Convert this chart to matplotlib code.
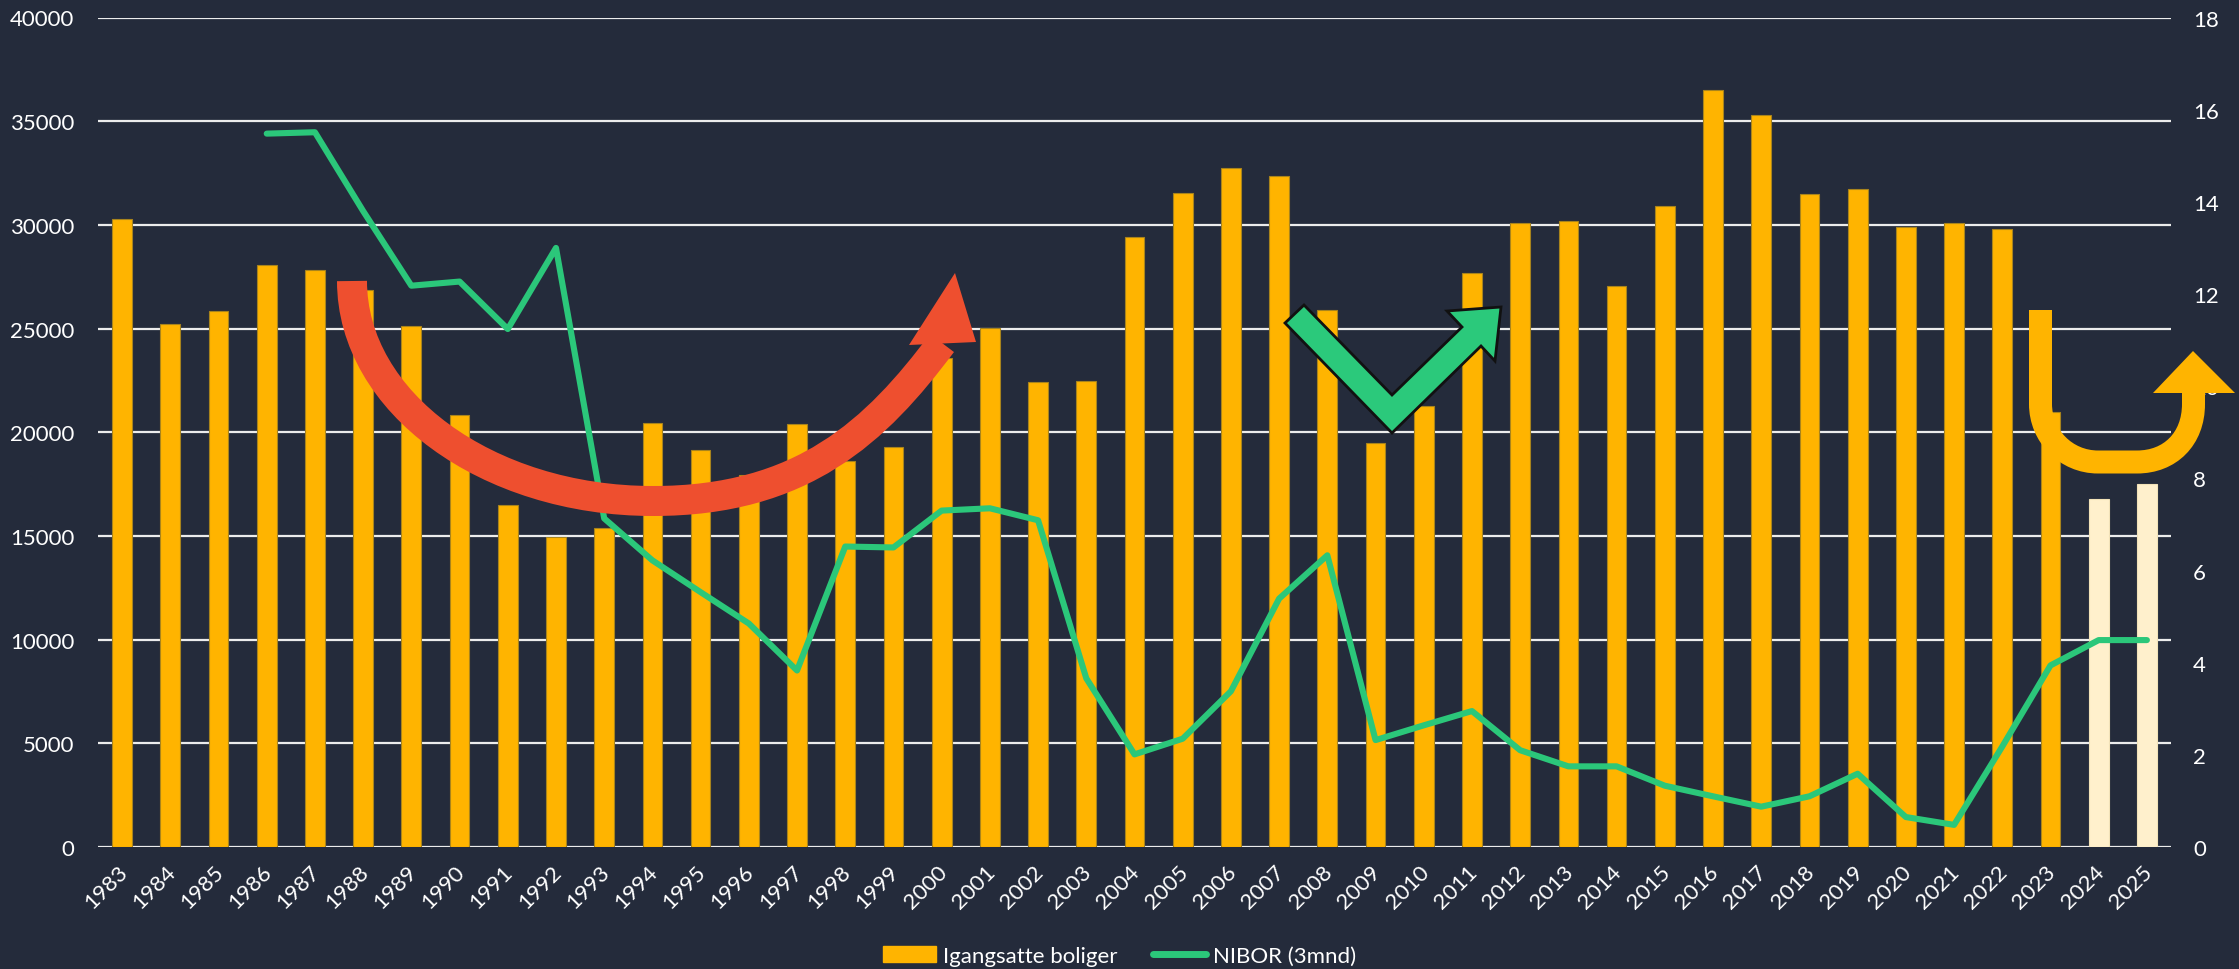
import numpy as np
import matplotlib
matplotlib.use("Agg")
from matplotlib import pyplot as plt
from matplotlib.path import Path
from matplotlib.patches import PathPatch, Polygon, Patch
from matplotlib.lines import Line2D
import matplotlib.transforms as mtransforms

plt.rcParams['font.family'] = ['Lato', 'DejaVu Sans']

# Data
years = [str(y) for y in range(1983, 2026)]
boliger = [30300, 25200, 25850, 28050, 27800, 26850, 25100, 20850, 16500, 14950,
           15400, 20450, 19150, 17950, 20400, 18600, 19300, 23600, 25050, 22400,
           22450, 29400, 31550, 32750, 32350, 25900, 19500, 21250, 27700, 30100,
           30200, 27050, 30900, 36500, 35300, 31500, 31750, 29900, 30100, 29800,
           21000, 16800, 17500]
nibor = [np.nan, np.nan, np.nan, 15.48, 15.51, 13.8, 12.18, 12.27, 11.24, 13.0,
         7.13, 6.22, 5.53, 4.85, 3.83, 6.52, 6.5, 7.3, 7.35, 7.09,
         3.66, 2.01, 2.35, 3.38, 5.39, 6.33, 2.32, 2.64, 2.95, 2.10,
         1.75, 1.75, 1.33, 1.10, 0.875, 1.10, 1.59, 0.65, 0.48, 2.18,
         3.94, 4.49, 4.49]
prognose = ['2024', '2025']

# Colours
bg = '#242b3b'
bar_color = '#ffb400'
bar_prog = '#fff0cc'
line_color = '#2bc77a'
red = '#ee4f2f'
txt = 'white'

W, H, DPI = 2239, 970, 100
fig = plt.figure(figsize=(W / DPI, H / DPI), dpi=DPI, facecolor=bg)
ax = fig.add_axes([98 / W, 1 - 848 / H, (2171 - 98) / W, (848 - 18.5) / H])
ax.set_facecolor(bg)
ax2 = ax.twinx()

x = np.arange(len(years))
colors = [bar_prog if y in prognose else bar_color for y in years]
edges = ['#f2e2b8' if y in prognose else '#a8841c' for y in years]
ax.bar(x, boliger, width=0.41, color=colors, edgecolor=edges, linewidth=0.8, zorder=2)
ax2.plot(x, nibor, color=line_color, lw=4.4, solid_capstyle='round',
         solid_joinstyle='round', zorder=3)

ax.set_xlim(-0.5, len(years) - 0.5)
ax.set_ylim(0, 40000)
ax2.set_ylim(0, 18)
ax.set_yticks(np.arange(0, 40001, 5000))
ax2.set_yticks(np.arange(0, 19, 2))
ax.grid(axis='y', color='#ececec', lw=1.6, zorder=0)
ax.set_axisbelow(True)
for a in (ax, ax2):
    for s in a.spines.values():
        s.set_visible(False)
    a.tick_params(length=0, colors=txt, labelsize=16)
ax.tick_params(axis='y', pad=17)
ax2.tick_params(axis='y', pad=16)
ax.set_xticks(x)
ax.set_xticklabels(years, rotation=45, ha='right', va='top', rotation_mode='anchor')
ax.tick_params(axis='x', pad=10)
shift = mtransforms.ScaledTranslation(-5 / DPI, 0, fig.dpi_scale_trans)
for lab in ax.get_xticklabels():
    lab.set_transform(lab.get_transform() + shift)

# Legend
handles = [Patch(facecolor=bar_color, edgecolor=bar_color),
           Line2D([], [], color=line_color, lw=5, solid_capstyle='round')]
fig.legend(handles, ['Igangsatte boliger', 'NIBOR (3mnd)'], loc='center',
           bbox_to_anchor=(0.5, 1 - 957 / H), ncol=2, frameon=False, fontsize=16,
           labelcolor=txt, handlelength=2.4, handletextpad=0.3, columnspacing=1.6)

# Decorations drawn in pixel coordinates (y down)
px = mtransforms.Affine2D().scale(1 / W, -1 / H).translate(0, 1) + fig.transFigure
C, L, M = Path.CURVE4, Path.LINETO, Path.MOVETO

# red U-shaped arrow
red_path = Path([(352, 282), (352, 403), (487, 502), (653, 502),
                 (803, 502), (876, 432), (942, 344)],
                [M, C, C, C, C, C, C])
fig.add_artist(PathPatch(red_path, fill=False, edgecolor=red, lw=30 * 0.72,
                         capstyle='butt', transform=px, zorder=10))
fig.add_artist(Polygon([(955, 274), (909, 346), (976, 343)], closed=True,
                       facecolor=red, edgecolor='none', transform=px, zorder=10))

# green check arrow
check = [(1304, 306), (1392, 396), (1462, 328), (1447, 312), (1501, 308),
         (1495, 362), (1481, 347), (1392, 434), (1285, 324)]
fig.add_artist(Polygon(check, closed=True, facecolor='#2bc97b', edgecolor='#111111',
                       lw=2, joinstyle='miter', transform=px, zorder=10))

# orange U-turn arrow
u_path = Path([(2040.5, 311), (2040.5, 405), (2040.5, 437), (2066, 463), (2098, 463),
               (2137, 463), (2170, 463), (2193.5, 440), (2193.5, 405), (2193.5, 394)],
              [M, L, C, C, C, L, C, C, C, L])
fig.add_artist(PathPatch(u_path, fill=False, edgecolor=bar_color, lw=23 * 0.72,
                         capstyle='butt', joinstyle='round', transform=px, zorder=10))
fig.add_artist(Polygon([(2153, 394), (2235, 394), (2193, 352)], closed=True,
                       facecolor=bar_color, edgecolor='none', transform=px, zorder=10))

fig.savefig('out.png', dpi=DPI, facecolor=bg)
